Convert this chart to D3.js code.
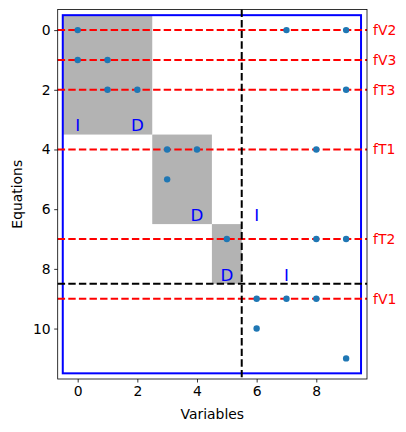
<!DOCTYPE html>
<html>
<head>
<meta charset="utf-8">
<script src="https://cdn.jsdelivr.net/npm/d3@7"></script>
<style>
body { margin: 0; background: #fff; }
text { font-family: "DejaVu Sans", sans-serif; }
</style>
</head>
<body>
<svg id="chart"></svg>
<script>
// nonzero entries (variable, equation)
var pointsX = [0, 7, 9, 0, 1, 1, 2, 9, 3, 4, 8, 3, 5, 8, 9, 6, 7, 8, 6, 9];
var pointsY = [0, 0, 0, 1, 1, 2, 2, 2, 4, 4, 4, 5, 7, 7, 7, 9, 9, 9, 10, 11];
// gray diagonal blocks [x0, x1, y0, y1]
var blocks = [[-0.5, 2.5, -0.5, 3.5], [2.5, 4.5, 3.5, 6.5], [4.5, 5.5, 6.5, 8.5]];
var blockLabels = ["I", "D", "D", "I", "D", "I"];
var blockLabelX = [0, 2, 4, 6, 5, 7];
var blockLabelY = [3.2, 3.2, 6.2, 6.2, 8.2, 8.2];
var rowLines = [0, 1, 2, 4, 7, 9];
var rowNames = ["fV2", "fV3", "fT3", "fT1", "fT2", "fV1"];
var xTicks = [0, 2, 4, 6, 8];
var yTicks = [0, 2, 4, 6, 8, 10];

var w = 406;
var h = 432;
var margin = { left: 57.7, right: 39, top: 9.5, bottom: 53 };

var svg = d3.select("#chart")
	.attr("width", w)
	.attr("height", h);

var xScale = d3.scaleLinear()
	.domain([-0.67, 9.7])
	.range([margin.left, w - margin.right]);
var yScale = d3.scaleLinear()
	.domain([-0.69, 11.69])
	.range([margin.top, h - margin.bottom]);

svg.selectAll("rect.block")
	.data(blocks)
	.enter()
	.append("rect")
	.classed("block", true)
	.attr("x", function (d) { return xScale(d[0]); })
	.attr("y", function (d) { return yScale(d[2]); })
	.attr("width", function (d) { return xScale(d[1]) - xScale(d[0]); })
	.attr("height", function (d) { return yScale(d[3]) - yScale(d[2]); })
	.attr("fill", "#b3b3b3");

svg.selectAll("text.blabel")
	.data(blockLabels)
	.enter()
	.append("text")
	.classed("blabel", true)
	.attr("x", function (d, i) { return xScale(blockLabelX[i]); })
	.attr("y", function (d, i) { return yScale(blockLabelY[i]); })
	.attr("dy", "0.35em")
	.attr("text-anchor", "middle")
	.attr("font-size", "16.7px")
	.attr("fill", "blue")
	.text(function (d) { return d; });

// blue outline
svg.append("rect")
	.attr("x", xScale(-0.5))
	.attr("y", yScale(-0.5))
	.attr("width", xScale(9.5) - xScale(-0.5))
	.attr("height", yScale(11.5) - yScale(-0.5))
	.attr("fill", "none")
	.attr("stroke", "blue")
	.attr("stroke-width", 2);

svg.selectAll("line.row")
	.data(rowLines)
	.enter()
	.append("line")
	.classed("row", true)
	.attr("x1", margin.left)
	.attr("x2", w - margin.right)
	.attr("y1", function (d) { return yScale(d); })
	.attr("y2", function (d) { return yScale(d); })
	.attr("stroke", "red")
	.attr("stroke-width", 2)
	.attr("stroke-dasharray", "7.4,3.2");

svg.selectAll("text.rlabel")
	.data(rowNames)
	.enter()
	.append("text")
	.classed("rlabel", true)
	.attr("x", w - margin.right + 6)
	.attr("y", function (d, i) { return yScale(rowLines[i]); })
	.attr("dy", "0.35em")
	.attr("font-size", "13.9px")
	.attr("fill", "red")
	.text(function (d) { return d; });

// split lines
svg.append("line")
	.attr("x1", xScale(5.5))
	.attr("x2", xScale(5.5))
	.attr("y1", margin.top)
	.attr("y2", h - margin.bottom)
	.attr("stroke", "black")
	.attr("stroke-width", 2)
	.attr("stroke-dasharray", "7.4,3.2");
svg.append("line")
	.attr("x1", margin.left)
	.attr("x2", w - margin.right)
	.attr("y1", yScale(8.5))
	.attr("y2", yScale(8.5))
	.attr("stroke", "black")
	.attr("stroke-width", 2)
	.attr("stroke-dasharray", "7.4,3.2");

svg.selectAll("circle")
	.data(pointsX)
	.enter()
	.append("circle")
	.attr("cx", function (d) { return xScale(d); })
	.attr("cy", function (d, i) { return yScale(pointsY[i]); })
	.attr("r", 3.2)
	.attr("fill", "#1f77b4");

var xAxis = d3.axisBottom(xScale).tickValues(xTicks).tickSize(3.5).tickPadding(3.5);
var yAxis = d3.axisLeft(yScale).tickValues(yTicks).tickSize(3.5).tickPadding(3.5);
var gx = svg.append("g")
	.attr("transform", "translate(0," + (h - margin.bottom) + ")")
	.call(xAxis);
var gy = svg.append("g")
	.attr("transform", "translate(" + margin.left + ",0)")
	.call(yAxis);
[gx, gy].forEach(function (g) {
	g.selectAll("text").attr("font-size", "13.9px").attr("font-family", "DejaVu Sans").attr("fill", "black");
	g.select(".domain").remove();
	g.selectAll("line").attr("stroke", "black").attr("stroke-width", 0.8);
});

// frame
svg.append("rect")
	.attr("x", margin.left)
	.attr("y", margin.top)
	.attr("width", w - margin.right - margin.left)
	.attr("height", h - margin.bottom - margin.top)
	.attr("fill", "none")
	.attr("stroke", "black")
	.attr("stroke-width", 0.8);

svg.append("text")
	.attr("x", (margin.left + w - margin.right) / 2)
	.attr("y", 419)
	.attr("text-anchor", "middle")
	.attr("font-size", "13.9px")
	.text("Variables");
svg.append("text")
	.attr("transform", "translate(22," + ((margin.top + h - margin.bottom) / 2) + ") rotate(-90)")
	.attr("text-anchor", "middle")
	.attr("font-size", "13.9px")
	.text("Equations");
</script>
</body>
</html>
